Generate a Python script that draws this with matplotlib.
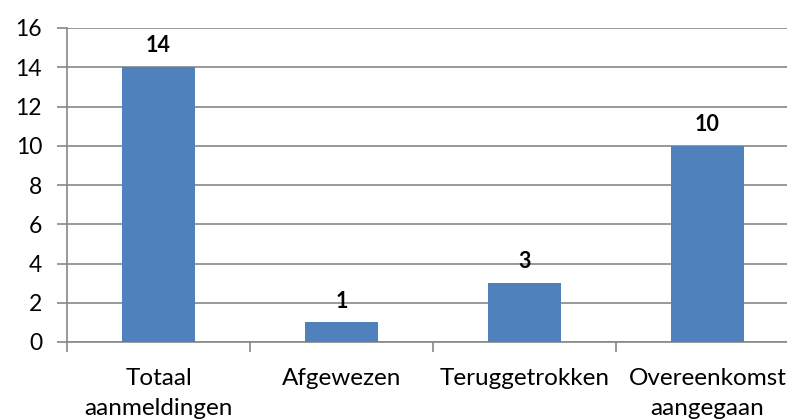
import matplotlib
matplotlib.use("Agg")
import matplotlib.pyplot as plt

categories = ["Totaal\naanmeldingen", "Afgewezen", "Teruggetrokken", "Overeenkomst\naangegaan"]
values = [14, 1, 3, 10]
yticks = [0, 2, 4, 6, 8, 10, 12, 14, 16]

plt.rcParams['font.family'] = ['Lato', 'DejaVu Sans']
fig = plt.figure(figsize=(7.87, 4.2), dpi=100)
ax = fig.add_axes([67/787, 78/420, 732/787, 314/420])

x = list(range(len(categories)))
ax.bar(x, values, width=0.4, color="#4F81BD", zorder=3)
for xi, v in zip(x, values):
    ax.text(xi, v + 0.55, str(v), ha="center", va="bottom", fontsize=15.5, fontweight="bold", color="black")

ax.set_xlim(-0.5, 3.5)
ax.set_ylim(0, 16)
ax.set_yticks(yticks)
ax.yaxis.grid(True, color="#878787", linewidth=1.2, zorder=0)
ax.set_axisbelow(True)
for s in ["top", "right"]:
    ax.spines[s].set_visible(False)
for s in ["left", "bottom"]:
    ax.spines[s].set_color("#878787")
    ax.spines[s].set_linewidth(1.2)

ax.set_xticks([-0.5, 0.5, 1.5, 2.5, 3.5])
ax.set_xticklabels([])
ax.set_xticks(x, minor=True)
ax.set_xticklabels(categories, minor=True, fontsize=17.5, linespacing=1.5)
ax.tick_params(axis="x", which="minor", length=0, pad=19)
ax.tick_params(axis="x", which="major", length=7, color="#878787", width=1.2)
ax.tick_params(axis="y", length=7, color="#878787", width=1.2, labelsize=16.5, pad=11)

fig.savefig("out.png", dpi=100)
